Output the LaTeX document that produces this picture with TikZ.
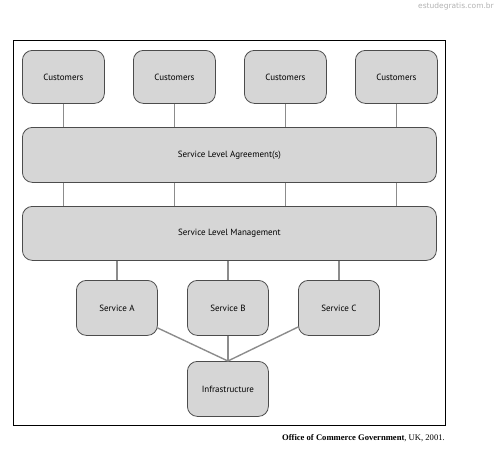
\documentclass[tikz,border=0pt]{standalone}
\usepackage{fontspec}
\setmainfont{Liberation Serif}
\newfontfamily\boxfont{PT Sans}
\newfontfamily\wmfont{DejaVu Sans}
\begin{document}
\begin{tikzpicture}[x=1pt,y=-1pt,
  box/.style={draw=black!70,line width=0.8pt,fill=black!16,rounded corners=10pt,
    inner sep=0pt,font=\boxfont\fontsize{9}{10}\selectfont,anchor=north west},
  link/.style={draw=black!45,line width=1.4pt}]
\useasboundingbox (0,0) rectangle (498,455);
\node[anchor=north east,text=black!30,font=\wmfont\fontsize{7.5}{9}\selectfont,inner sep=0pt] (wm) at (494,3) {estudegratis.com.br};
\draw[line width=0.9pt] (13,40) rectangle (445,425);
% customers
\node[box,minimum width=82pt,minimum height=53pt] (c1) at (22,50) {Customers};
\node[box,minimum width=82pt,minimum height=53pt] (c2) at (133,50) {Customers};
\node[box,minimum width=82pt,minimum height=53pt] (c3) at (244,50) {Customers};
\node[box,minimum width=82pt,minimum height=53pt] (c4) at (355,50) {Customers};
\node[box,minimum width=414pt,minimum height=55pt] (sla) at (22,127) {Service Level Agreement(s)};
\node[box,minimum width=414pt,minimum height=54pt] (slm) at (22,206) {Service Level Management};
\node[box,minimum width=81pt,minimum height=55pt] (sa) at (76,280) {Service A};
\node[box,minimum width=81pt,minimum height=55pt] (sb) at (187,280) {Service B};
\node[box,minimum width=81pt,minimum height=55pt] (sc) at (298,280) {Service C};
\node[box,minimum width=81pt,minimum height=55pt] (inf) at (187,361) {Infrastructure};
\foreach \c in {c1,c2,c3,c4}{
  \draw[link] (\c.south) -- (\c.south |- sla.north);
  \draw[link] (\c.south |- sla.south) -- (\c.south |- slm.north);
}
\foreach \s in {sa,sb,sc}{
  \draw[link] (\s.north |- slm.south) -- (\s.north);
}
\draw[link] (sb.south) -- (inf.north);
\draw[link] ([xshift=-0.5pt,yshift=8pt]sa.south east) -- (inf.north);
\draw[link] ([xshift=0.5pt,yshift=9pt]sc.south west) -- (inf.north);
\node[anchor=north east,inner sep=0pt,font=\fontsize{8.6}{10}\selectfont] (cap) at (445,434) {\textbf{Office of Commerce Government}, UK, 2001.};
\end{tikzpicture}
\end{document}
